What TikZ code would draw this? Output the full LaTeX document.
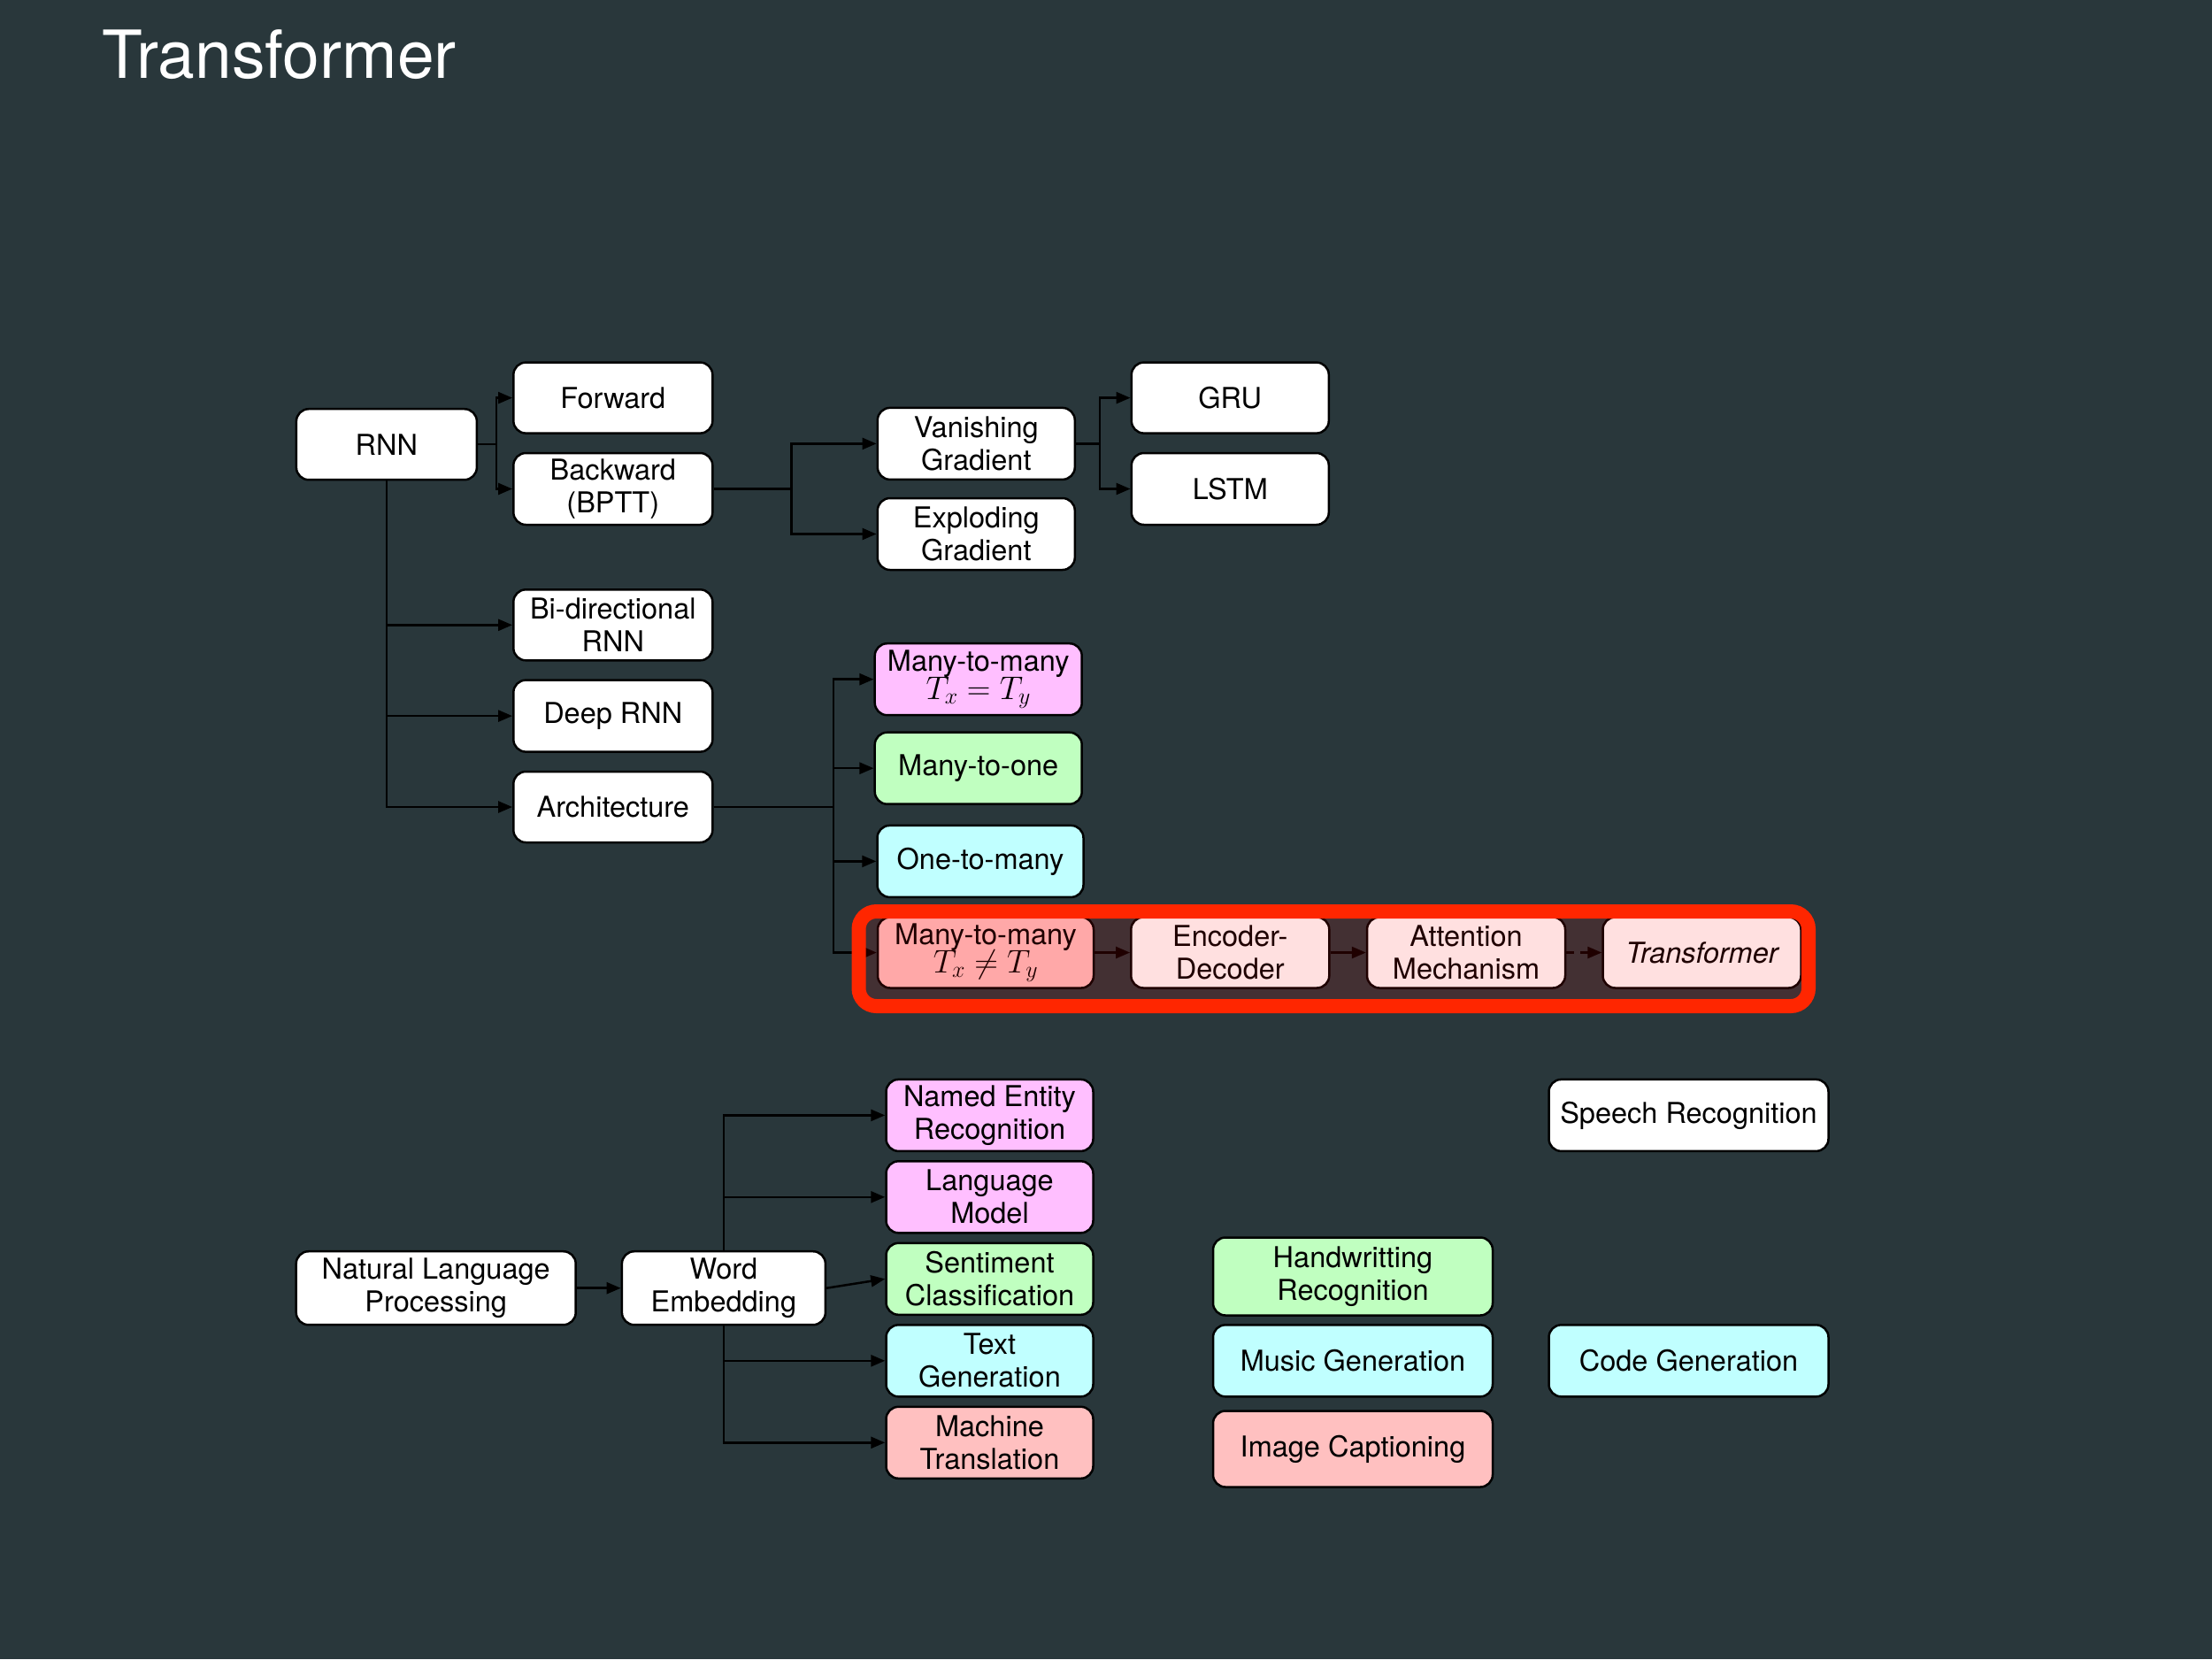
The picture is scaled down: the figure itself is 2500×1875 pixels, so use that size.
\RequirePackage{fix-cm}
\documentclass[tikz,border=0pt]{standalone}
\usepackage{fontspec}
\setmainfont{TeX Gyre Heros}
\usetikzlibrary{arrows.meta}
\definecolor{bg}{RGB}{41,55,59}
\definecolor{cmag}{RGB}{255,191,255}
\definecolor{cgrn}{RGB}{192,255,192}
\definecolor{ccyn}{RGB}{192,255,255}
\definecolor{cpnk}{RGB}{255,192,192}
\definecolor{redline}{RGB}{255,38,0}
\tikzset{
  bx/.style={draw=black, line width=2.5pt, rounded corners=14pt, align=center,
    inner sep=0pt, text=black, fill=white,
    font=\fontsize{32.5}{37}\selectfont},
  conn/.style={line width=2.5pt, draw=black, -{Triangle[length=16pt,width=13pt]}},
}
\newcommand{\mathline}[1]{{\fontsize{37}{37}\selectfont$#1$}}
\begin{document}
\begin{tikzpicture}[x=1pt,y=-1pt]
\useasboundingbox (0,0) rectangle (2500,1875);
\fill[bg] (0,0) rectangle (2500,1875);
\node[anchor=base west, text=white, inner sep=0pt, font=\fontsize{75}{80}\selectfont] (title) at (115,88) {Transformer};

% RNN part
\node[bx, minimum width=204pt, minimum height=80pt] (RNN) at (436.9,502.2) {RNN};
\node[bx, minimum width=225pt, minimum height=80pt] (Fwd) at (692.8,449.6) {Forward};
\node[bx, minimum width=225pt, minimum height=81pt] (Bwd) at (692.8,552.5) {Backward\\(BPTT)};
\node[bx, minimum width=223pt, minimum height=81pt] (Van) at (1103.3,501.4) {Vanishing\\Gradient};
\node[bx, minimum width=223pt, minimum height=81pt] (Exp) at (1103.3,603.5) {Exploding\\Gradient};
\node[bx, minimum width=223pt, minimum height=80pt] (GRU) at (1390.3,449.6) {GRU};
\node[bx, minimum width=223pt, minimum height=81pt] (LSTM) at (1390.3,552.5) {LSTM};
\node[bx, minimum width=225pt, minimum height=80pt] (Bi) at (692.8,706.3) {Bi-directional\\RNN};
\node[bx, minimum width=225pt, minimum height=81pt] (Deep) at (692.8,809.1) {Deep RNN};
\node[bx, minimum width=225pt, minimum height=80pt] (Arch) at (692.8,912.0) {Architecture};

\node[bx, fill=cmag, minimum width=234pt, minimum height=81pt] (M1) at (1105.7,767.7) {Many-to-many\\[-5pt]\mathline{T_x = T_y}};
\node[bx, fill=cgrn, minimum width=234pt, minimum height=81pt] (M2) at (1105.7,868.2) {Many-to-one};
\node[bx, fill=ccyn, minimum width=233pt, minimum height=81pt] (M3) at (1108.0,973.4) {One-to-many};
\node[bx, fill=cpnk, minimum width=244pt, minimum height=80pt] (M4) at (1114.0,1076.5) {Many-to-many\\[-5pt]\mathline{T_x \neq T_y}};
\node[bx, minimum width=224pt, minimum height=80pt] (ED) at (1390.3,1076.5) {Encoder-\\Decoder};
\node[bx, minimum width=224pt, minimum height=80pt] (Att) at (1657.0,1076.5) {Attention\\Mechanism};
\node[bx, minimum width=224pt, minimum height=80pt, font=\fontsize{32.5}{37}\selectfont\itshape] (Tr) at (1923.5,1076.5) {Transformer};

% NLP part
\node[bx, minimum width=316pt, minimum height=83pt] (NLP) at (492.7,1455.7) {Natural Language\\Processing};
\node[bx, minimum width=230pt, minimum height=83pt] (WE) at (817.9,1455.7) {Word\\Embedding};
\node[bx, fill=cmag, minimum width=234pt, minimum height=81pt] (NER) at (1118.5,1260.4) {Named Entity\\Recognition};
\node[bx, fill=cmag, minimum width=234pt, minimum height=81pt] (LM) at (1118.5,1352.8) {Language\\Model};
\node[bx, fill=cgrn, minimum width=234pt, minimum height=81pt] (SC) at (1118.5,1445.3) {Sentiment\\Classification};
\node[bx, fill=ccyn, minimum width=234pt, minimum height=81pt] (TG) at (1118.5,1537.8) {Text\\Generation};
\node[bx, fill=cpnk, minimum width=234pt, minimum height=81pt] (MT) at (1118.5,1630.3) {Machine\\Translation};

\node[bx, minimum width=316pt, minimum height=81pt] (SR) at (1908.5,1260.4) {Speech Recognition};
\node[bx, fill=cgrn, minimum width=316pt, minimum height=88pt] (HR) at (1529.0,1442.5) {Handwritting\\Recognition};
\node[bx, fill=ccyn, minimum width=316pt, minimum height=81pt] (MG) at (1529.0,1537.8) {Music Generation};
\node[bx, fill=ccyn, minimum width=316pt, minimum height=81pt] (CG) at (1908.5,1537.8) {Code Generation};
\node[bx, fill=cpnk, minimum width=316pt, minimum height=86pt] (IC) at (1529.0,1637.5) {Image Captioning};

% connectors
\draw[conn] (RNN.east) -- ++(20.7,0) |- (Fwd.west);
\draw[conn] (RNN.east) -- ++(20.7,0) |- (Bwd.west);
\draw[conn] (RNN.south) |- (Bi.west);
\draw[conn] (RNN.south) |- (Deep.west);
\draw[conn] (RNN.south) |- (Arch.west);
\draw[conn] (Bwd.east) -- ++(87.7,0) |- (Van.west);
\draw[conn] (Bwd.east) -- ++(87.7,0) |- (Exp.west);
\draw[conn] (Van.east) -- ++(27,0) |- (GRU.west);
\draw[conn] (Van.east) -- ++(27,0) |- (LSTM.west);
\draw[conn] (Arch.east) -- ++(135.5,0) |- (M1.west);
\draw[conn] (Arch.east) -- ++(135.5,0) |- (M2.west);
\draw[conn] (Arch.east) -- ++(135.5,0) |- (M3.west);
\draw[conn] (Arch.east) -- ++(135.5,0) |- (M4.west);
\draw[conn] (M4.east) -- (ED.west);
\draw[conn] (ED.east) -- (Att.west);
\draw[conn, dash pattern=on 9pt off 7pt] (Att.east) -- (Tr.west);

\draw[conn] (NLP.east) -- (WE.west);
\draw[conn] (WE.north) |- (NER.west);
\draw[conn] (WE.north) |- (LM.west);
\draw[conn] (WE.east) -- (SC.west);
\draw[conn] (WE.south) |- (TG.west);
\draw[conn] (WE.south) |- (MT.west);

% highlight
\fill[red, opacity=0.12, rounded corners=20pt] (970.5,1030) rectangle (2044,1137);
\draw[redline, line width=16pt, rounded corners=20pt] (970.5,1030) rectangle (2044,1137);
\end{tikzpicture}
\end{document}
